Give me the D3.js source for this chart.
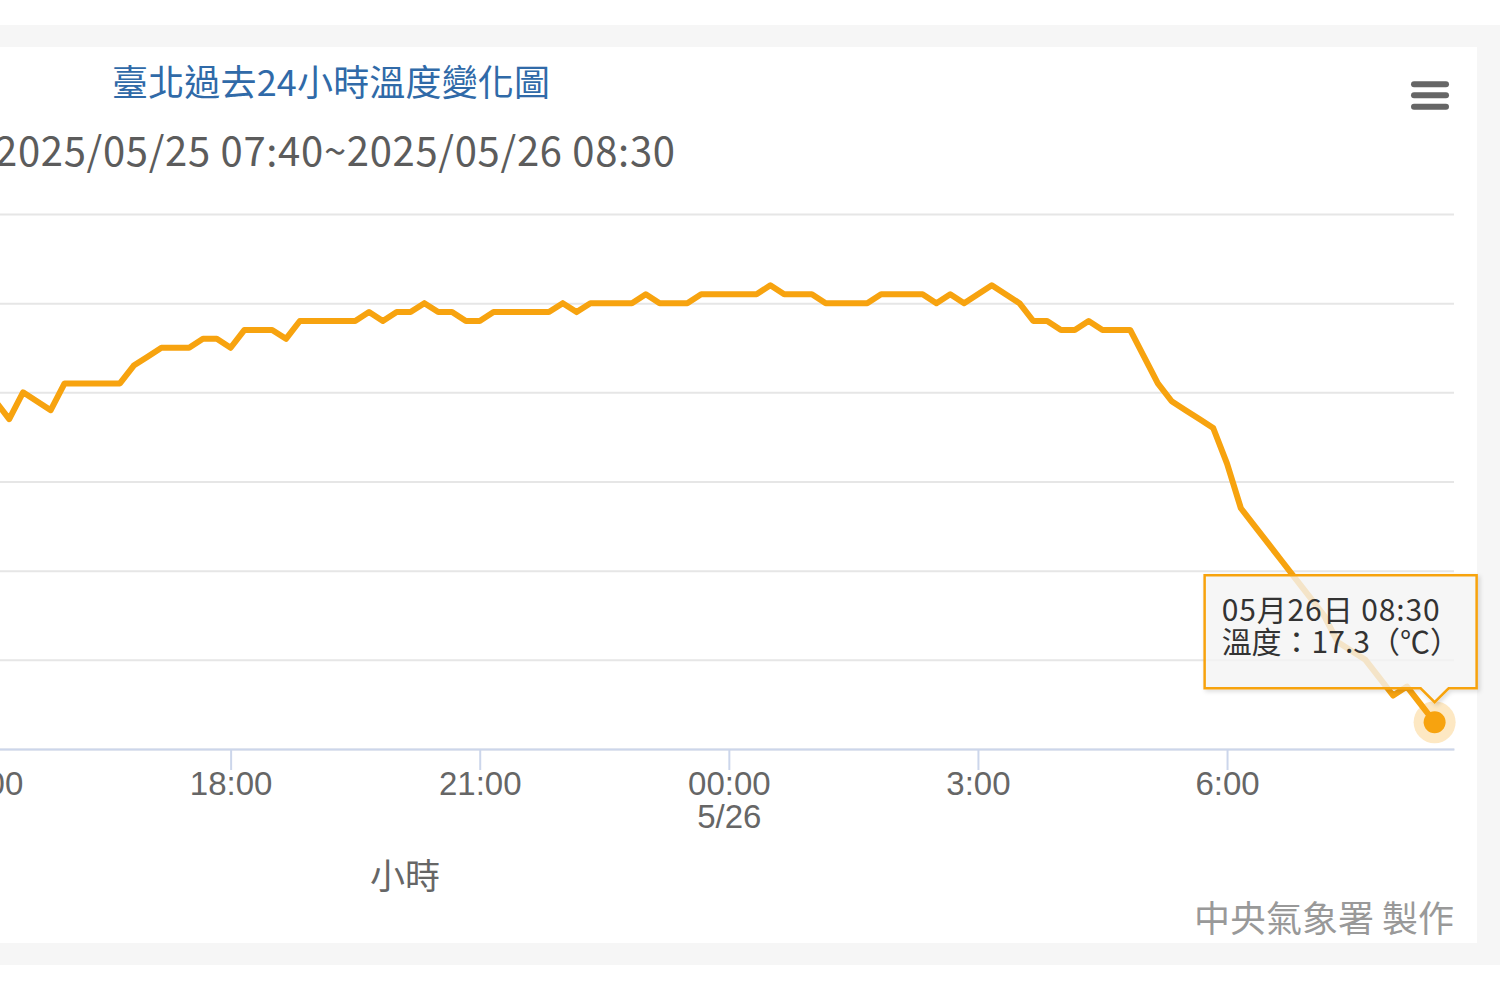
<!DOCTYPE html>
<html>
<head>
<meta charset="utf-8">
<script src="https://cdn.jsdelivr.net/npm/d3@7"></script>
<style>
  body { margin: 0; background: #fff; }
  svg { display: block; font-family: "Noto Sans CJK TC", "Noto Sans", sans-serif; }
</style>
</head>
<body>
<svg id="chart" width="1500" height="1000"></svg>
<script>
// text of the chart
var titleText = "臺北過去24小時溫度變化圖";
var subtitleText = "2025/05/25 07:40~2025/05/26 08:30";
var xAxisTitle = "小時";
var creditText = "中央氣象署 製作";

// observations every 10 minutes (only the part that is visible in the picture)
var startTime = "2025-05-25 15:10";
var stepMinutes = 10;
var temps = [
    20.9, 20.7, 21.0, 20.9, 20.8,                    // 15:10 - 15:50
    21.1, 21.1, 21.1, 21.1, 21.1, 21.3,              // 16:00 - 16:50
    21.4, 21.5, 21.5, 21.5, 21.6, 21.6,              // 17:00 - 17:50
    21.5, 21.7, 21.7, 21.7, 21.6, 21.8,              // 18:00 - 18:50
    21.8, 21.8, 21.8, 21.8, 21.9, 21.8,              // 19:00 - 19:50
    21.9, 21.9, 22.0, 21.9, 21.9, 21.8,              // 20:00 - 20:50
    21.8, 21.9, 21.9, 21.9, 21.9, 21.9,              // 21:00 - 21:50
    22.0, 21.9, 22.0, 22.0, 22.0, 22.0,              // 22:00 - 22:50
    22.1, 22.0, 22.0, 22.0, 22.1, 22.1,              // 23:00 - 23:50
    22.1, 22.1, 22.1, 22.2, 22.1, 22.1,              // 00:00 - 00:50
    22.1, 22.0, 22.0, 22.0, 22.0, 22.1,              // 01:00 - 01:50
    22.1, 22.1, 22.1, 22.0, 22.1, 22.0,              // 02:00 - 02:50
    22.1, 22.2, 22.1, 22.0, 21.8, 21.8,              // 03:00 - 03:50
    21.7, 21.7, 21.8, 21.7, 21.7, 21.7,              // 04:00 - 04:50
    21.4, 21.1, 20.9, 20.8, 20.7, 20.6,              // 05:00 - 05:50
    20.2, 19.7, 19.5, 19.3, 19.1, 18.9,              // 06:00 - 06:50
    18.7, 18.5, 18.2, 18.1, 18.0, 17.8,              // 07:00 - 07:50
    17.6, 17.7, 17.5, 17.3                           // 08:00 - 08:30
];

// axes
var xDomain = ["2025-05-25 07:28", "2025-05-26 08:44"];
var xTickTimes = ["2025-05-25 15:00", "2025-05-25 18:00", "2025-05-25 21:00",
                  "2025-05-26 00:00", "2025-05-26 03:00", "2025-05-26 06:00"];
var xTickLabels = ["15:00", "18:00", "21:00", "00:00", "3:00", "6:00"];
var xTickDates = ["", "", "", "5/26", "", ""];
var yTicks = [17, 18, 19, 20, 21, 22, 23];

var lineColor = "#f7a30f";

// plot area (the left part of the chart is cut off in the picture)
var plot = { left: -644, right: 1454, top: 214, bottom: 749 };

var parseTime = d3.utcParse("%Y-%m-%d %H:%M");
var fmtTip = d3.utcFormat("%m月%d日 %H:%M");

var t0 = parseTime(startTime);
var data = temps.map(function (v, i) {
    return { t: d3.utcMinute.offset(t0, i * stepMinutes), v: v };
});

var svg = d3.select("#chart");

// page background and chart panel
svg.append("rect").attr("x", 0).attr("y", 0).attr("width", 1500).attr("height", 1000).attr("fill", "#fff");
svg.append("rect").attr("x", 0).attr("y", 25).attr("width", 1500).attr("height", 940).attr("fill", "#f6f6f6");
svg.append("rect").attr("x", 0).attr("y", 47).attr("width", 1477).attr("height", 896).attr("fill", "#fff");

var x = d3.scaleUtc()
    .domain(xDomain.map(parseTime))
    .range([plot.left, plot.right]);

var y = d3.scaleLinear()
    .domain([d3.min(yTicks), d3.max(yTicks)])
    .range([plot.bottom, plot.top]);

// horizontal grid lines
var grid = svg.append("g")
    .attr("transform", "translate(" + plot.left + ",0)")
    .call(d3.axisLeft(y).tickValues(yTicks).tickSize(-(plot.right - plot.left)).tickFormat(""));
grid.select(".domain").remove();
grid.selectAll("line").attr("stroke", "#e6e6e6").attr("stroke-width", 2);

// x axis
var xAxis = svg.append("g")
    .attr("transform", "translate(0," + plot.bottom + ")")
    .call(d3.axisBottom(x)
        .tickValues(xTickTimes.map(parseTime))
        .tickFormat(function (d, i) { return xTickLabels[i]; })
        .tickSizeInner(21)
        .tickSizeOuter(0)
        .tickPadding(2));
xAxis.select(".domain").attr("stroke", "#ccd6eb").attr("stroke-width", 2);
xAxis.selectAll(".tick line").attr("stroke", "#ccd6eb").attr("stroke-width", 2);
xAxis.selectAll(".tick text")
    .attr("fill", "#666")
    .style("font-size", "33px")
    .style("font-family", "inherit")
    .each(function (d, i) {
        if (xTickDates[i]) {
            d3.select(this).append("tspan")
                .attr("x", 0)
                .attr("dy", "1em")
                .text(xTickDates[i]);
        }
    });

svg.append("text")
    .attr("x", (plot.left + plot.right) / 2)
    .attr("y", 889)
    .attr("text-anchor", "middle")
    .attr("fill", "#666")
    .style("font-size", "35px")
    .text(xAxisTitle);

// temperature line
var line = d3.line()
    .x(function (d) { return x(d.t); })
    .y(function (d) { return y(d.v); });

svg.append("path")
    .datum(data)
    .attr("d", line)
    .attr("fill", "none")
    .attr("stroke", lineColor)
    .attr("stroke-width", 6)
    .attr("stroke-linejoin", "round")
    .attr("stroke-linecap", "round");

// hovered last point
var last = data[data.length - 1];
var px = x(last.t), py = y(last.v);
svg.append("circle").attr("cx", px).attr("cy", py).attr("r", 21)
    .attr("fill", lineColor).attr("opacity", 0.25);
svg.append("circle").attr("cx", px).attr("cy", py).attr("r", 11)
    .attr("fill", lineColor);

// titles
svg.append("text")
    .attr("x", 331)
    .attr("y", 96)
    .attr("text-anchor", "middle")
    .attr("fill", "#306aa8")
    .attr("textLength", 438)
    .attr("lengthAdjust", "spacing")
    .style("font-size", "36px")
    .text(titleText);

svg.append("text")
    .attr("x", 335)
    .attr("y", 166)
    .attr("text-anchor", "middle")
    .attr("fill", "#5c5c5c")
    .attr("textLength", 680)
    .attr("lengthAdjust", "spacing")
    .style("font-size", "40px")
    .text(subtitleText);

// menu button
[84.3, 95.3, 106.7].forEach(function (cy) {
    svg.append("rect")
        .attr("x", 1411).attr("y", cy - 3)
        .attr("width", 38).attr("height", 6).attr("rx", 3)
        .attr("fill", "#666");
});

// credit
svg.append("text")
    .attr("x", plot.right)
    .attr("y", 932)
    .attr("text-anchor", "end")
    .attr("fill", "#999")
    .style("font-size", "36px")
    .text(creditText);

// tooltip for the last point
var box = { left: px - 230, right: px + 42, top: py - 147, bottom: py - 34 };
var tipPath = "M" + box.left + "," + box.top +
    "H" + box.right + "V" + box.bottom +
    "H" + (px + 14) + "L" + px + "," + (py - 20) + "L" + (px - 14) + "," + box.bottom +
    "H" + box.left + "Z";

var defs = svg.append("defs");
var shadow = defs.append("filter").attr("id", "tipShadow")
    .attr("x", "-10%").attr("y", "-10%").attr("width", "130%").attr("height", "140%");
shadow.append("feDropShadow")
    .attr("dx", 2).attr("dy", 2).attr("stdDeviation", 2)
    .attr("flood-color", "#000").attr("flood-opacity", 0.15);

svg.append("path")
    .attr("d", tipPath)
    .attr("fill", "rgba(247,247,247,0.78)")
    .attr("stroke", lineColor)
    .attr("stroke-width", 2.5)
    .attr("filter", "url(#tipShadow)");

var tipText = svg.append("text")
    .attr("x", box.left + 17)
    .attr("y", box.top + 46)
    .attr("fill", "#333")
    .style("font-size", "30px");
tipText.append("tspan")
    .attr("textLength", 218)
    .attr("lengthAdjust", "spacing")
    .text(fmtTip(last.t));
tipText.append("tspan")
    .attr("x", box.left + 17)
    .attr("dy", 32)
    .text("溫度：" + last.v.toFixed(1) + "（℃）");
</script>
</body>
</html>
